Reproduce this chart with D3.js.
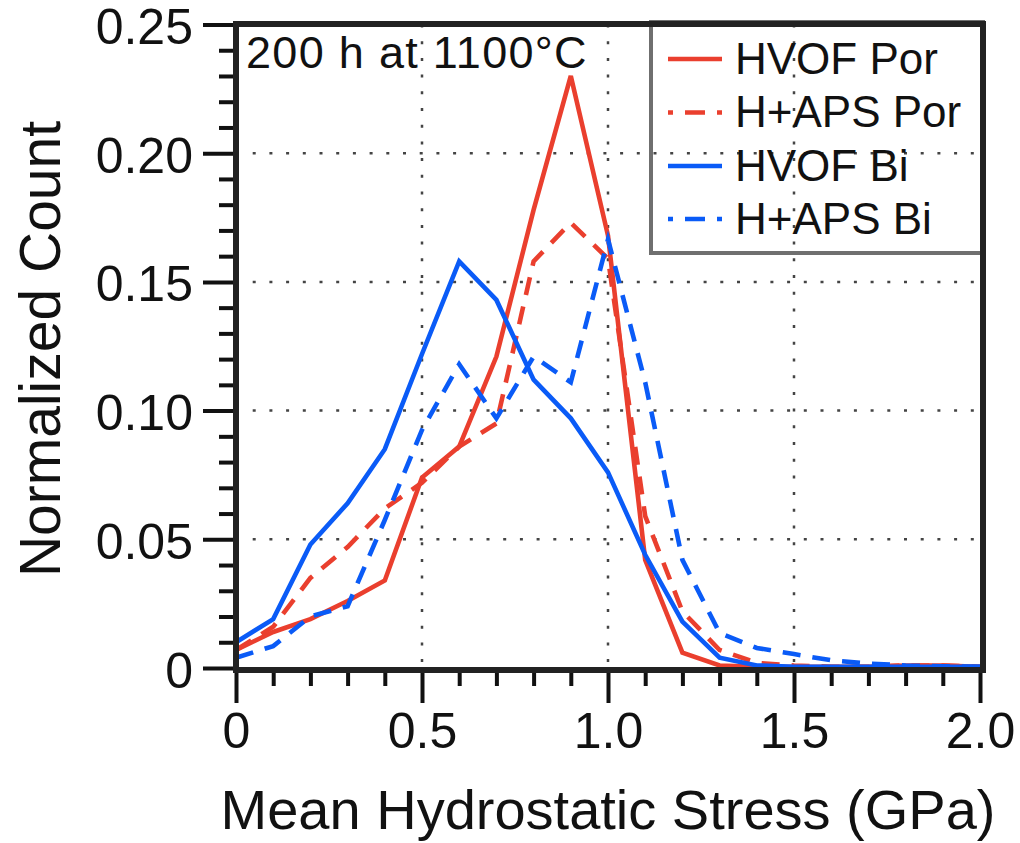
<!DOCTYPE html>
<html>
<head>
<meta charset="utf-8">
<script src="https://cdn.jsdelivr.net/npm/d3@7"></script>
<style>
  html, body { margin: 0; padding: 0; background: #fff; }
  svg { display: block; font-family: "Liberation Sans", Arial, Helvetica, sans-serif; }
</style>
</head>
<body>
<svg id="chart" width="1020" height="843"></svg>
<script>
// ---- data ----
const stress = [0, 0.1, 0.2, 0.3, 0.4, 0.5, 0.6, 0.7, 0.8, 0.9, 1.0, 1.1, 1.2, 1.3, 1.4, 1.5, 1.6, 1.7, 1.8, 1.9, 2.0];
const hvofPor  = [0.007, 0.014, 0.019, 0.026, 0.034, 0.074, 0.086, 0.121, 0.178, 0.230, 0.168, 0.042, 0.006, 0.001, 0.0005, 0.0005, 0.0005, 0.0005, 0.001, 0.001, 0.0005];
const hapsPor  = [0.007, 0.016, 0.035, 0.047, 0.062, 0.072, 0.086, 0.095, 0.158, 0.173, 0.159, 0.059, 0.022, 0.007, 0.002, 0.001, 0.0005, 0.0005, 0.001, 0.001, 0.0005];
const hvofBi   = [0.010, 0.019, 0.048, 0.064, 0.085, 0.122, 0.158, 0.143, 0.112, 0.097, 0.076, 0.044, 0.018, 0.004, 0.001, 0.0005, 0.0005, 0.0005, 0.0005, 0.0005, 0.0005];
const hapsBi   = [0.004, 0.0085, 0.020, 0.024, 0.0575, 0.0925, 0.118, 0.097, 0.121, 0.111, 0.1665, 0.111, 0.042, 0.0136, 0.0078, 0.0054, 0.003, 0.0017, 0.001, 0.0007, 0.0005];

const seriesNames = ["HVOF Por", "H+APS Por", "HVOF Bi", "H+APS Bi"];
const seriesColors = ["#ea3f2e", "#ea3f2e", "#0a5bf7", "#0a5bf7"];
const seriesDashed = [false, true, false, true];

const xMajorTicks = [0, 0.5, 1.0, 1.5, 2.0];
const xTickLabels = ["0", "0.5", "1.0", "1.5", "2.0"];
const xMinorTicks = [0.1, 0.2, 0.3, 0.4, 0.6, 0.7, 0.8, 0.9, 1.1, 1.2, 1.3, 1.4, 1.6, 1.7, 1.8, 1.9];
const yMajorTicks = [0, 0.05, 0.10, 0.15, 0.20, 0.25];
const yTickLabels = ["0", "0.05", "0.10", "0.15", "0.20", "0.25"];
const yMinorTicks = [0.01,0.02,0.03,0.04,0.06,0.07,0.08,0.09,0.11,0.12,0.13,0.14,0.16,0.17,0.18,0.19,0.21,0.22,0.23,0.24];
const xGrid = [0.5, 1.0, 1.5];
const yGrid = [0.05, 0.10, 0.15, 0.20];

const xTitle = "Mean Hydrostatic Stress (GPa)";
const yTitle = "Normalized Count";
const annotation = "200 h at 1100\u00B0C";

// ---- layout ----
const svg = d3.select("#chart");
const x = d3.scaleLinear().domain([0, 2.0]).range([236, 980]);
const y = d3.scaleLinear().domain([0, 0.25]).range([668, 24.5]);

// gridlines
const grid = svg.append("g").attr("stroke", "#444").attr("stroke-width", 2.5).attr("stroke-dasharray", "3,13.7");
grid.selectAll("line.v").data(xGrid).join("line").attr("class", "v")
  .attr("x1", d => x(d)).attr("x2", d => x(d)).attr("y1", y(0.25)).attr("y2", y(0));
grid.selectAll("line.h").data(yGrid).join("line").attr("class", "h")
  .attr("x1", x(0)).attr("x2", x(2.0)).attr("y1", d => y(d)).attr("y2", d => y(d));

// legend box (transparent)
svg.append("rect").attr("x", 651).attr("y", 22).attr("width", 332).attr("height", 231)
  .attr("fill", "none").attr("stroke", "#6f6f6f").attr("stroke-width", 4);

// lines
const allSeries = [hvofPor, hapsPor, hvofBi, hapsBi];
const line = d3.line().x((d, i) => x(stress[i])).y(d => y(d));
allSeries.forEach((s, k) => {
  svg.append("path").datum(s)
    .attr("d", line)
    .attr("fill", "none")
    .attr("stroke", seriesColors[k])
    .attr("stroke-width", 4.6)
    .attr("stroke-linejoin", "miter")
    .attr("stroke-dasharray", seriesDashed[k] ? "18,12" : null);
});

// legend entries
const legRowY = [59, 112.5, 166, 219];
seriesNames.forEach((name, k) => {
  svg.append("line").attr("x1", 668).attr("x2", 722).attr("y1", legRowY[k]).attr("y2", legRowY[k])
    .attr("stroke", seriesColors[k]).attr("stroke-width", 4.6)
    .attr("stroke-dasharray", seriesDashed[k] ? "20,12" : null)
    .attr("stroke-dashoffset", seriesDashed[k] ? 15 : null);
  svg.append("text").attr("x", 735).attr("y", legRowY[k] + 14.5)
    .attr("font-size", 44).attr("fill", "#111").text(name);
});

// annotation
svg.append("text").attr("x", 246).attr("y", 68).attr("font-size", 45)
  .attr("letter-spacing", 1.3).attr("fill", "#111").text(annotation);

// axes
svg.append("g").attr("transform", "translate(0,670)")
  .call(d3.axisBottom(x).tickValues(xMajorTicks).tickSize(33).tickPadding(9.5)
    .tickFormat((d, i) => xTickLabels[i]));
svg.append("g").attr("transform", "translate(0,670)")
  .call(d3.axisBottom(x).tickValues(xMinorTicks).tickSize(16).tickFormat(""));
const yAxis = svg.append("g").attr("transform", "translate(236,0)")
  .call(d3.axisLeft(y).tickValues(yMajorTicks).tickSize(33).tickPadding(10)
    .tickFormat((d, i) => yTickLabels[i]));
svg.append("g").attr("transform", "translate(236,0)")
  .call(d3.axisLeft(y).tickValues(yMinorTicks).tickSize(17).tickFormat(""));

svg.selectAll(".domain").remove();
svg.selectAll(".tick line").attr("stroke", "#111").attr("stroke-width", 4);
svg.selectAll(".tick text").attr("font-size", 50).attr("fill", "#111")
  .attr("font-family", "'Liberation Sans', Arial, sans-serif");
yAxis.selectAll(".tick text").attr("dy", "0.38em");

// frame
svg.append("rect").attr("x", 236).attr("y", 24).attr("width", 747).attr("height", 646)
  .attr("fill", "none").attr("stroke", "#222").attr("stroke-width", 6);

// titles
svg.append("text").attr("x", 608).attr("y", 829).attr("text-anchor", "middle")
  .attr("font-size", 56).attr("fill", "#111").text(xTitle);
svg.append("text").attr("transform", "translate(60,349) rotate(-90)").attr("text-anchor", "middle")
  .attr("font-size", 57).attr("fill", "#111").text(yTitle);
</script>
</body>
</html>
